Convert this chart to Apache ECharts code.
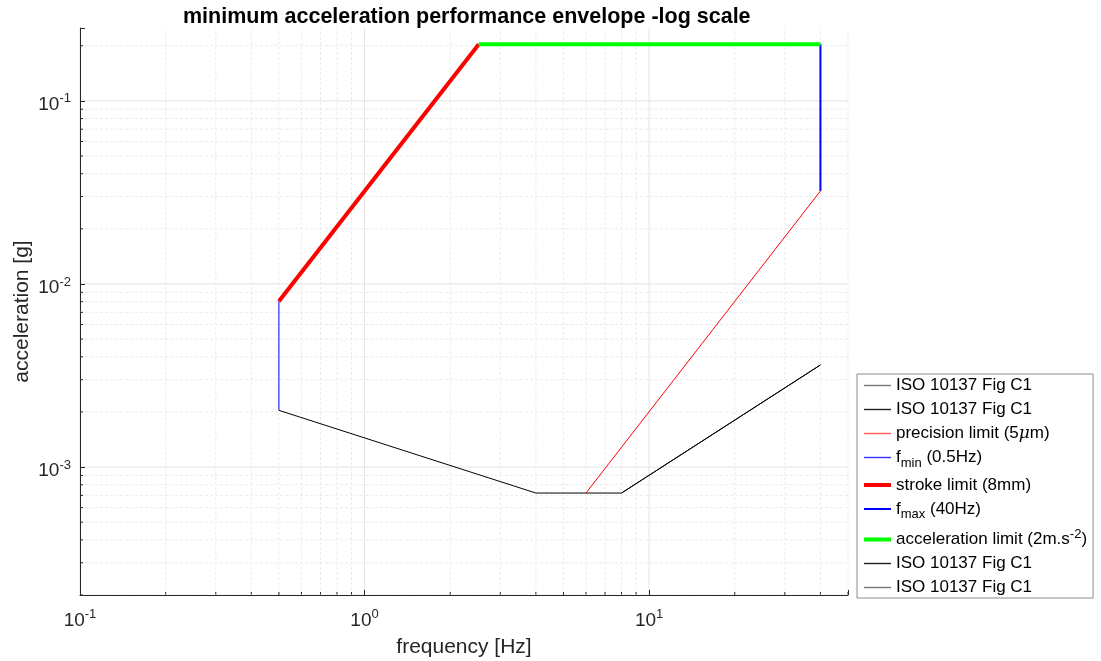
<html>
<head>
    <meta charset="utf-8">
</head>
<body style="margin:0">
    <script src="https://cdn.jsdelivr.net/npm/echarts@6/dist/echarts.min.js"></script>

    <div id="main" style="width: 1101px;height: 661px"></div>

    <script>
// --- data ---
var isoFreqA = [0.5, 4];          var isoAccA = [0.00204, 0.000721];
var isoFreqB = [4, 8];            var isoAccB = [0.000721, 0.000721];
var isoFreqC = [8, 40];           var isoAccC = [0.000721, 0.00361];
var precFreq = [6, 40];           var precAcc = [0.000721, 0.0322];
var fminFreq = [0.5, 0.5];        var fminAcc = [0.00204, 0.00805];
var strokeFreq = [0.5, 2.52];     var strokeAcc = [0.00805, 0.2039];
var fmaxFreq = [40, 40];          var fmaxAcc = [0.0322, 0.2039];
var accFreq = [2.52, 40];         var accAcc = [0.2039, 0.2039];

var xMin = 0.1, xMax = 50;
var yMin = 2e-4, yMax = 0.25;

// minor grid positions (2..9 per decade)
var xMinor = [], yMinor = [];
[0.1, 1, 10].forEach(function (d) {
    for (var k = 2; k <= 9; k++) { if (k * d <= xMax + 1e-9) xMinor.push(k * d); }
});
[1e-4, 1e-3, 1e-2, 1e-1].forEach(function (d) {
    for (var k = 2; k <= 9; k++) { var v = k * d; if (v >= yMin - 1e-12 && v <= yMax) yMinor.push(v); }
});
var xMajor = [0.1, 1, 10];
var yMajor = [1e-3, 1e-2, 1e-1];

function pair(xs, ys) {
    return xs.map(function (x, i) { return [x, ys[i]]; });
}

// unique names (zero width spaces) so repeated legend labels each get their own entry
var ISO = 'ISO 10137 Fig C1';
var names = [ISO, ISO + '\u200b', 'precision', 'fmin', 'stroke', 'fmax', 'accel', ISO + '\u200b\u200b', ISO + '\u200b\u200b\u200b'];
var seriesColors = ['#000', '#000', '#ff0000', '#0000ff', '#ff0000', '#0000ff', '#00ff00', '#000', '#000'];
var seriesWidths = [1, 1, 1, 1, 4, 2, 4, 1, 1];
var legendColors = ['#777', '#222', '#ff5555', '#3333ff', '#ff0000', '#0000ff', '#00ff00', '#222', '#777'];
var legendWidths = [1.4, 1.4, 1.4, 1.4, 4, 2, 4, 1.4, 1.4];
var legendLabels = {};
legendLabels[names[0]] = '{t|ISO 10137 Fig C1}';
legendLabels[names[1]] = '{t|ISO 10137 Fig C1}';
legendLabels['precision'] = '{t|precision limit (5}{mu|μ}{t|m)}';
legendLabels['fmin'] = '{t|f}{sub|min}{t| (0.5Hz)}';
legendLabels['stroke'] = '{t|stroke limit (8mm)}';
legendLabels['fmax'] = '{t|f}{sub|max}{t| (40Hz)}';
legendLabels['accel'] = '{t|acceleration limit (2m.s}{sup|-2}{t|)}';
legendLabels[names[7]] = '{t|ISO 10137 Fig C1}';
legendLabels[names[8]] = '{t|ISO 10137 Fig C1}';

var seriesX = [isoFreqA, isoFreqB, precFreq, fminFreq, strokeFreq, fmaxFreq, accFreq, isoFreqC, isoFreqC];
var seriesY = [isoAccA, isoAccB, precAcc, fminAcc, strokeAcc, fmaxAcc, accAcc, isoAccC, isoAccC];

function isPow10(v) {
    var l = Math.log10(v);
    return Math.abs(l - Math.round(l)) < 1e-6;
}
function powLabel(v) {
    if (!isPow10(v)) return '';
    return '{b|10}{s|' + Math.round(Math.log10(v)) + '}';
}
var powRich = {
    b: { fontSize: 19, color: '#262626', fontFamily: 'Liberation Sans' },
    s: { fontSize: 13, color: '#262626', fontFamily: 'Liberation Sans', padding: [0, 0, 12, 0] }
};

function lineSeries(i) {
    return {
        name: names[i], type: 'line', data: pair(seriesX[i], seriesY[i]),
        symbol: 'none', showSymbol: false, silent: true, animation: false,
        lineStyle: { color: seriesColors[i], width: seriesWidths[i] },
        itemStyle: { color: seriesColors[i], opacity: 0 }
    };
}

function gridSeries(vertical, values, majors) {
    var data = values.map(function (v) { return [v, 0]; })
        .concat(majors.map(function (v) { return [v, 1]; }));
    return {
        type: 'custom', silent: true, animation: false, z: 0,
        data: data,
        renderItem: function (params, api) {
            var v = api.value(0), major = api.value(1) === 1;
            var p0 = vertical ? api.coord([v, yMin]) : api.coord([xMin, v]);
            var p1 = vertical ? api.coord([v, yMax]) : api.coord([xMax, v]);
            var kids = [{
                type: 'line',
                shape: { x1: p0[0], y1: p0[1], x2: p1[0], y2: p1[1] },
                style: major ? { stroke: '#e3e3e3', lineWidth: 1 }
                             : { stroke: '#ececec', lineWidth: 1, lineDash: [3, 2] }
            }];
            if (!major) {
                kids.push({
                    type: 'line',
                    shape: vertical
                        ? { x1: p0[0], y1: p0[1], x2: p0[0], y2: p0[1] - 3 }
                        : { x1: p0[0], y1: p0[1], x2: p0[0] + 3, y2: p0[1] },
                    style: { stroke: '#262626', lineWidth: 1 }
                });
            }
            return { type: 'group', children: kids };
        }
    };
}

var myChart = echarts.init(document.getElementById('main'));

var series = [gridSeries(true, xMinor, xMajor), gridSeries(false, yMinor, yMajor)];
for (var i = 0; i < names.length; i++) series.push(lineSeries(i));

var option = {
    animation: false,
    title: {
        text: 'minimum acceleration performance envelope -log scale',
        left: 178, top: 1,
        textStyle: { fontSize: 21.5, fontWeight: 'bold', color: '#000', fontFamily: 'Liberation Sans' }
    },
    grid: { left: 80, right: 253, top: 28, bottom: 66, outerBoundsMode: 'none', containLabel: false },
    legend: {
        data: names.map(function (n, i) {
            return { name: n, lineStyle: { width: legendWidths[i], color: legendColors[i], opacity: 1 } };
        }),
        orient: 'vertical',
        left: 857, top: 374,
        itemWidth: 27, itemHeight: 12, itemGap: 7,
        padding: [3, 6, 2, 5],
        borderColor: '#8c8c8c', borderWidth: 1,
        backgroundColor: '#fff',
        itemStyle: { opacity: 0 },
        formatter: function (n) { return legendLabels[n]; },
        textStyle: {
            rich: {
                t: { fontSize: 17, color: '#000', fontFamily: 'Liberation Sans' },
                mu: { fontSize: 17, color: '#000', fontFamily: 'DejaVu Serif', fontStyle: 'italic' },
                sub: { fontSize: 13, color: '#000', fontFamily: 'Liberation Sans', padding: [11, 0, 0, 0] },
                sup: { fontSize: 13, color: '#000', fontFamily: 'Liberation Sans', padding: [0, 0, 10, 0] }
            }
        }
    },
    xAxis: {
        type: 'log', logBase: 10, min: xMin, max: xMax,
        name: 'frequency [Hz]', nameLocation: 'middle', nameGap: 42, nameMoveOverlap: false,
        nameTextStyle: { fontSize: 21, color: '#262626', fontFamily: 'Liberation Sans' },
        axisLine: { lineStyle: { color: '#262626', width: 1 } },
        axisTick: { inside: true, length: 5, lineStyle: { color: '#262626' } },
        axisLabel: { formatter: powLabel, rich: powRich, margin: 13 },
        splitLine: { show: false }
    },
    yAxis: {
        type: 'log', logBase: 10, min: yMin, max: yMax,
        name: 'acceleration [g]', nameLocation: 'middle', nameGap: 47, nameMoveOverlap: false,
        nameTextStyle: { fontSize: 21, color: '#262626', fontFamily: 'Liberation Sans' },
        axisLine: { show: true, lineStyle: { color: '#262626', width: 1 } },
        axisTick: { show: true, inside: true, length: 5, lineStyle: { color: '#262626' } },
        axisLabel: { formatter: powLabel, rich: powRich, margin: 9, padding: [8, 0, 0, 0] },
        splitLine: { show: false }
    },
    series: series
};

myChart.setOption(option);
    </script>
</body>
</html>
